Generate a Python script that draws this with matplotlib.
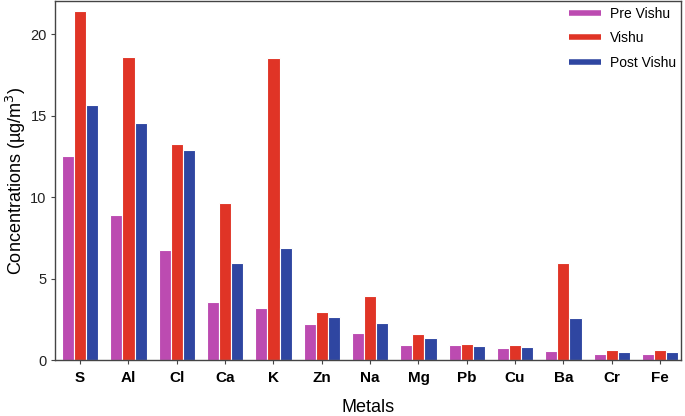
import numpy as np
import matplotlib
matplotlib.use("Agg")
import matplotlib.pyplot as plt
from matplotlib.lines import Line2D

plt.rcParams['font.family'] = ['Liberation Sans', 'DejaVu Sans']

metals = ['S', 'Al', 'Cl', 'Ca', 'K', 'Zn', 'Na', 'Mg', 'Pb', 'Cu', 'Ba', 'Cr', 'Fe']
pre_vishu = [12.54, 8.87, 6.77, 3.57, 3.16, 2.22, 1.63, 0.94, 0.90, 0.75, 0.57, 0.39, 0.37]
vishu = [21.4, 18.6, 13.25, 9.62, 18.5, 2.96, 3.91, 1.59, 0.98, 0.94, 5.93, 0.61, 0.63]
post_vishu = [15.66, 14.56, 12.9, 5.93, 6.85, 2.63, 2.26, 1.35, 0.86, 0.81, 2.59, 0.47, 0.49]

labels = ['Pre Vishu', 'Vishu', 'Post Vishu']
colors = ['#BC4BB1', '#E03426', '#2F46A1']

fig = plt.figure(figsize=(6.85, 4.16), dpi=100)
ax = fig.add_axes([0.0803, 0.1346, 0.9137, 0.862])

x = np.arange(len(metals))
w = 0.25
for i, (vals, c) in enumerate(zip([pre_vishu, vishu, post_vishu], colors)):
    ax.bar(x + (i - 1) * w, vals, w, color=c, edgecolor='white', linewidth=0.8)

ax.set_xlim(-0.52, 12.43)
ax.set_ylim(0, 22)
ax.set_xticks(x)
ax.set_xticklabels(metals, fontweight='bold', fontsize=11)
ax.set_yticks([0, 5, 10, 15, 20])
ax.tick_params(axis='y', labelsize=10.5, length=3, pad=3, color='#444444', labelcolor='#222222')
ax.tick_params(axis='x', length=3, pad=5, color='#444444')
for s in ax.spines.values():
    s.set_color('#444444')
    s.set_linewidth(1.0)

ax.set_ylabel('Concentrations (µg/m$^3$)', fontsize=13)
ax.yaxis.set_label_coords(-0.043, 0.5)
ax.set_xlabel('Metals', fontsize=13)
ax.xaxis.set_label_coords(0.5, -0.11)

handles = [Line2D([0], [0], color=c, lw=4, solid_capstyle='butt') for c in colors]
ax.legend(handles, labels, loc='upper right', frameon=False, fontsize=10,
          handlelength=2.3, handletextpad=0.6, labelspacing=0.75,
          bbox_to_anchor=(1.012, 1.02))

fig.savefig('out.png', dpi=100)
